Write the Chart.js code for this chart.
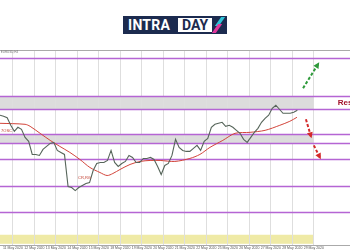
<!DOCTYPE html>
<html lang="en">
<head>
  <meta charset="UTF-8" />
  <title>Intraday chart</title>
  <script src="https://cdn.jsdelivr.net/npm/chart.js"></script>
  <style>
    body { margin: 0; background: #fff; }
    .wrap { position: relative; width: 350px; height: 250px; overflow: hidden; }
    #chart { position: absolute; left: 0; top: 0; }

    /* Logo */
    .logo {
      position: absolute; left: 123px; top: 16px; width: 104px; height: 18px;
      background: #1c2b4f; font-family: Roboto, sans-serif; font-weight: 700;
      font-size: 14px; line-height: 18px; color: #fff;
    }
    .logo .intra { position: absolute; left: 5px; top: 0; letter-spacing: 0.3px; }
    .logo .day {
      position: absolute; left: 55px; top: 2px; height: 14px; width: 34px;
      background: #fff; color: #1c2b4f; line-height: 14px; text-align: center;
    }
    .logo .i1, .logo .i2 {
      position: absolute; width: 4px; height: 9px; transform: skewX(-35deg);
    }
    .logo .i1 { left: 95px; top: 1px; background: #2fc3d8; }
    .logo .i2 { left: 92px; top: 8px; background: #e2379c; }
  </style>
</head>
<body>
  <div class="wrap">
    <canvas id="chart" width="350" height="250"></canvas>
    <div class="logo">
      <span class="intra">INTRA</span>
      <span class="day">DAY</span>
      <span class="i1"></span><span class="i2"></span>
    </div>
  </div>

  <script>
    // price, one value per bar (H4)
    const priceValues = [
      1.1070, 1.1068, 1.1065, 1.1050, 1.1038, 1.1046, 1.1042, 1.1026, 1.1018, 1.0992,
      1.0992, 1.0990, 1.1002, 1.1008, 1.1014, 1.1016, 1.1000, 1.0996, 1.0992, 1.0928,
      1.0926, 1.0920, 1.0926, 1.0930, 1.0934, 1.0936, 1.0960, 1.0974, 1.0976, 1.0976,
      1.0980, 1.1000, 1.0976, 1.0968, 1.0974, 1.0978, 1.0990, 1.0986, 1.0976, 1.0976,
      1.0984, 1.0984, 1.0986, 1.0982, 1.0968, 1.0952, 1.0970, 1.0974, 1.0990, 1.1022,
      1.1006, 1.1000, 1.0998, 1.0998, 1.1004, 1.1010, 1.1000, 1.1018, 1.1024, 1.1046,
      1.1052, 1.1054, 1.1056, 1.1048, 1.1050, 1.1046, 1.1040, 1.1034, 1.1022, 1.1016,
      1.1026, 1.1036, 1.1044, 1.1056, 1.1064, 1.1070, 1.1084, 1.1090, 1.1082, 1.1074,
      1.1074, 1.1074, 1.1076, 1.1080
    ];

    // moving average (red)
    const maBars = [0, 7, 8.4, 11.2, 14, 16.7, 19.5, 22.3, 25.1, 27.9, 29.9, 31.5, 33.5, 36.3,
      39.1, 41.9, 44.7, 48.8, 53, 55.8, 58.6, 62.2, 65.6, 69.8, 74, 78.1, 80.9, 82.9];
    const maValues = [1.1054, 1.1052, 1.1048, 1.1034, 1.1020, 1.1008, 1.0996, 1.0982, 1.0966,
      1.0956, 1.0950, 1.0954, 1.0962, 1.0972, 1.0978, 1.0980, 1.0980, 1.0978, 1.0984, 1.0992,
      1.1006, 1.1020, 1.1034, 1.1036, 1.1040, 1.1050, 1.1058, 1.1066];

    // horizontal levels and zones
    const levelLines = [1.1184, 1.1108, 1.1082, 1.1032, 1.1014, 1.0982, 1.0930, 1.0878];
    const grayZones = [[1.1082, 1.1108], [1.1014, 1.1032]];
    const yellowZone = [1.0814, 1.0832];

    // time axis: one grid line per day (6 bars)
    const tickBars = [3.6, 9.6, 15.6, 21.6, 27.6, 33.6, 39.6, 45.6, 51.6, 57.6, 63.6, 69.6, 75.6, 81.6, 87.6];
    const tickLabels = ['11 May 2020', '12 May 2020', '13 May 2020', '14 May 2020', '15 May 2020',
      '18 May 2020', '19 May 2020', '20 May 2020', '21 May 2020', '22 May 2020', '25 May 2020',
      '26 May 2020', '27 May 2020', '28 May 2020', '29 May 2020'];

    // scenario arrows [bar, price]
    const upArrow = [[84.6, 1.1124], [88.8, 1.1172]];
    const downArrows = [
      [[85.4, 1.1062], [86.8, 1.1028]],
      [[87.6, 1.1010], [89.3, 1.0986]]
    ];

    const priceData = priceValues.map((v, i) => ({ x: i, y: v }));
    const maData = maBars.map((b, i) => ({ x: b, y: maValues[i] }));

    function arrow(ctx, x0, y0, x1, y1, color) {
      ctx.save();
      ctx.strokeStyle = color;
      ctx.fillStyle = color;
      ctx.lineWidth = 2;
      ctx.setLineDash([3, 2]);
      ctx.beginPath();
      ctx.moveTo(x0, y0);
      ctx.lineTo(x1, y1);
      ctx.stroke();
      ctx.setLineDash([]);
      const a = Math.atan2(y1 - y0, x1 - x0);
      ctx.beginPath();
      ctx.moveTo(x1 + Math.cos(a) * 2, y1 + Math.sin(a) * 2);
      ctx.lineTo(x1 + Math.cos(a + 2.5) * 5, y1 + Math.sin(a + 2.5) * 5);
      ctx.lineTo(x1 + Math.cos(a - 2.5) * 5, y1 + Math.sin(a - 2.5) * 5);
      ctx.closePath();
      ctx.fill();
      ctx.restore();
    }

    const levels = {
      id: 'levels',
      beforeDraw(chart) {
        const { ctx, scales: { x, y } } = chart;
        const xa = x.getPixelForValue(x.min);
        const xb = x.getPixelForValue(tickBars[tickBars.length - 1]);
        ctx.save();
        ctx.fillStyle = '#dcdcdc';
        grayZones.forEach(([lo, hi]) => {
          const top = y.getPixelForValue(hi);
          ctx.fillRect(xa, top, xb - xa, y.getPixelForValue(lo) - top);
        });
        ctx.fillStyle = '#efeaa6';
        const yt = y.getPixelForValue(yellowZone[1]);
        ctx.fillRect(xa, yt, xb - xa, y.getPixelForValue(yellowZone[0]) - yt);
        ctx.restore();
      },
      beforeDatasetsDraw(chart) {
        const { ctx, chartArea, scales: { y } } = chart;
        ctx.save();
        ctx.strokeStyle = '#aaaaaa';
        ctx.lineWidth = 1;
        ctx.beginPath();
        ctx.moveTo(0, chartArea.top + 0.5);
        ctx.lineTo(chartArea.right, chartArea.top + 0.5);
        ctx.stroke();
        ctx.strokeStyle = '#b565d4';
        ctx.lineWidth = 1.3;
        levelLines.forEach(v => {
          const py = Math.round(y.getPixelForValue(v)) + 0.5;
          ctx.beginPath();
          ctx.moveTo(chartArea.left, py);
          ctx.lineTo(chartArea.right, py);
          ctx.stroke();
        });
        ctx.restore();
      },
      afterDatasetsDraw(chart) {
        const { ctx, scales: { x, y } } = chart;
        const px = p => [x.getPixelForValue(p[0]), y.getPixelForValue(p[1])];
        arrow(ctx, ...px(upArrow[0]), ...px(upArrow[1]), '#2e9a3a');
        downArrows.forEach(a => arrow(ctx, ...px(a[0]), ...px(a[1]), '#d42a2a'));

        ctx.save();
        ctx.textBaseline = 'middle';
        ctx.fillStyle = '#a3142c';
        ctx.font = 'bold 8px "Liberation Sans", Arial, sans-serif';
        ctx.fillText('Resistance', x.getPixelForValue(94.3), y.getPixelForValue(1.1094));
        ctx.fillStyle = '#c0392b';
        ctx.font = '4px "Liberation Sans", Arial, sans-serif';
        ctx.fillText('7OSC', x.getPixelForValue(0.3), y.getPixelForValue(1.1038));
        ctx.fillText('CR,RG', x.getPixelForValue(21.8), y.getPixelForValue(1.0946));
        ctx.fillStyle = '#777';
        ctx.font = '3px "Liberation Sans", Arial, sans-serif';
        ctx.fillText('EURUSD,H4', x.getPixelForValue(0.2), y.getPixelForValue(1.1196));
        ctx.restore();
      }
    };

    new Chart(document.getElementById('chart'), {
      type: 'line',
      data: {
        datasets: [
          {
            label: 'EURUSD',
            data: priceData,
            borderColor: '#56655a',
            borderWidth: 1.1,
            pointRadius: 0,
            tension: 0
          },
          {
            label: 'MA',
            data: maData,
            borderColor: '#d2443a',
            borderWidth: 1,
            pointRadius: 0,
            tension: 0.3
          }
        ]
      },
      options: {
        responsive: false,
        animation: false,
        layout: { padding: { top: 50, left: 0, right: 0, bottom: 0 } },
        plugins: { legend: { display: false }, tooltip: { enabled: false } },
        scales: {
          x: {
            type: 'linear',
            min: 0,
            max: 97.7,
            afterBuildTicks: axis => { axis.ticks = tickBars.map(v => ({ value: v })); },
            ticks: {
              autoSkip: false,
              maxRotation: 0,
              padding: 0,
              color: '#555',
              font: { size: 3.5, family: 'Liberation Sans' },
              callback: (v, i) => tickLabels[i]
            },
            grid: { color: '#dedede', drawTicks: false },
            border: { color: '#aaaaaa' }
          },
          y: {
            display: false,
            min: 1.0810,
            max: 1.1200
          }
        }
      },
      plugins: [levels]
    });
  </script>
</body>
</html>
